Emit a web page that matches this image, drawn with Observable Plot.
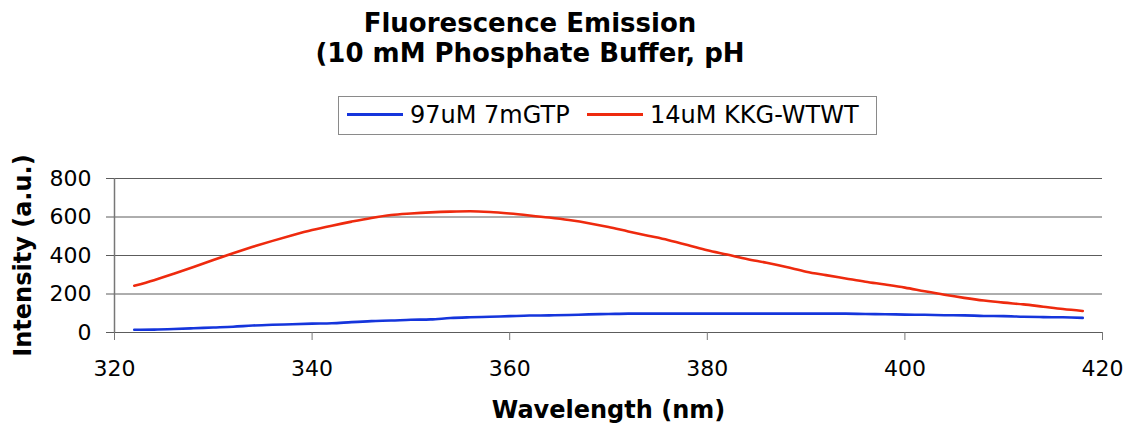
<!DOCTYPE html>
<html>
<head>
<meta charset="utf-8">
<script src="https://cdn.jsdelivr.net/npm/d3@7"></script>
<script src="https://cdn.jsdelivr.net/npm/@observablehq/plot@0.6"></script>
<style>
  html, body { margin: 0; padding: 0; background: #fff; }
  body { font-family: "DejaVu Sans", Verdana, sans-serif; color: #000; }
  #page { position: relative; width: 1131px; height: 426px; overflow: hidden; }
  #header { position: relative; width: 1131px; height: 150px; }
  #title {
    position: absolute; left: 0; top: 8px; width: 1060px;
    text-align: center; font-weight: bold; font-size: 26px; line-height: 30px;
  }
  #legend {
    position: absolute; left: 338px; top: 96px; width: 537px; height: 37px;
    border: 1.5px solid #8a8a8a; box-sizing: content-box;
  }
  .swatch { position: absolute; height: 3px; width: 56px; }
  .lbl { position: absolute; font-size: 24px; line-height: 24px; white-space: nowrap; }
</style>
</head>
<body>
<div id="page">
  <div id="header">
    <div id="title">Fluorescence Emission<br>(10 mM Phosphate Buffer, pH</div>
    <div id="legend"></div>
  </div>
  <div id="chart"></div>
</div>
<script>
// Emission wavelengths (nm)
const wavelength = [322, 324, 326, 328, 330, 332, 334, 336, 338, 340,
                    342, 344, 346, 348, 350, 352, 354, 356, 358, 360,
                    362, 364, 366, 368, 370, 372, 374, 376, 378, 380,
                    382, 384, 386, 388, 390, 392, 394, 396, 398, 400,
                    402, 404, 406, 408, 410, 412, 414, 416, 418];

// 97uM 7mGTP intensity (a.u.)
const gtp = [14, 15, 18, 22, 26, 30, 36, 40, 43, 46,
             48, 54, 59, 62, 66, 68, 75, 79, 82, 85,
             88, 89, 91, 94, 96, 98, 98, 98, 98, 98,
             98, 98, 98, 98, 98, 98, 98, 96, 95, 93,
             92, 90, 89, 86, 85, 82, 80, 79, 76];

// 14uM KKG-WTWT intensity (a.u.)
const kkg = [243, 272, 305, 340, 377, 412, 445, 476, 505, 532,
             555, 576, 595, 610, 618, 624, 628, 630, 626, 618,
             608, 597, 584, 568, 548, 525, 503, 481, 455, 427,
             405, 382, 362, 340, 316, 298, 281, 264, 249, 233,
             214, 196, 180, 166, 155, 146, 134, 122, 112];

const seriesNames = ["97uM 7mGTP", "14uM KKG-WTWT"];
const seriesColors = ["#1535dc", "#ee2a0e"];

const xTicks = [320, 340, 360, 380, 400, 420];
const yTicks = [0, 200, 400, 600, 800];

const rows = [];
wavelength.forEach((w, i) => {
  rows.push({wavelength: w, intensity: gtp[i], series: seriesNames[0]});
  rows.push({wavelength: w, intensity: kkg[i], series: seriesNames[1]});
});

// Legend above the plot
const legend = document.getElementById("legend");
const legendItems = [
  {sx: 8, tx: 71},
  {sx: 248, tx: 311}
];
seriesNames.forEach((name, i) => {
  const sw = document.createElement("div");
  sw.className = "swatch";
  sw.style.left = legendItems[i].sx + "px";
  sw.style.top = "16px";
  sw.style.background = seriesColors[i];
  legend.appendChild(sw);
  const lb = document.createElement("div");
  lb.className = "lbl";
  lb.style.left = legendItems[i].tx + "px";
  lb.style.top = "6px";
  lb.textContent = name;
  legend.appendChild(lb);
});

const gridColor = "#5c5c5c";

const chart = Plot.plot({
  width: 1131,
  height: 276,
  marginTop: 28,
  marginBottom: 94,
  marginLeft: 114,
  marginRight: 29,
  style: {fontFamily: "'DejaVu Sans', Verdana, sans-serif", fontSize: "22px", background: "#fff", color: "#000", overflow: "visible"},
  x: {domain: [320, 420]},
  y: {domain: [0, 800]},
  color: {domain: seriesNames, range: seriesColors},
  marks: [
    Plot.gridY(yTicks, {stroke: gridColor, strokeOpacity: 1, strokeWidth: 1}),
    Plot.ruleX([320], {stroke: "#777", strokeWidth: 1.5}),
    Plot.axisY(yTicks, {tickSize: 8, tickPadding: 15, fontSize: 22, stroke: gridColor, label: null}),
    Plot.axisX(xTicks, {tickSize: 8, tickPadding: 20, fontSize: 22, stroke: "#777", label: null}),
    Plot.line(rows, {
      x: "wavelength", y: "intensity", z: "series", stroke: "series",
      strokeWidth: 2.6, curve: "monotone-x"
    }),
    Plot.text(["Intensity (a.u.)"], {
      text: d => d, frameAnchor: "left", rotate: -90, dx: -91,
      fontSize: 24, fontWeight: "bold", textAnchor: "middle", lineAnchor: "middle"
    }),
    Plot.text(["Wavelength (nm)"], {
      text: d => d, frameAnchor: "bottom", dy: 78,
      fontSize: 24, fontWeight: "bold", textAnchor: "middle", lineAnchor: "middle"
    })
  ]
});
document.getElementById("chart").appendChild(chart);
</script>
</body>
</html>
